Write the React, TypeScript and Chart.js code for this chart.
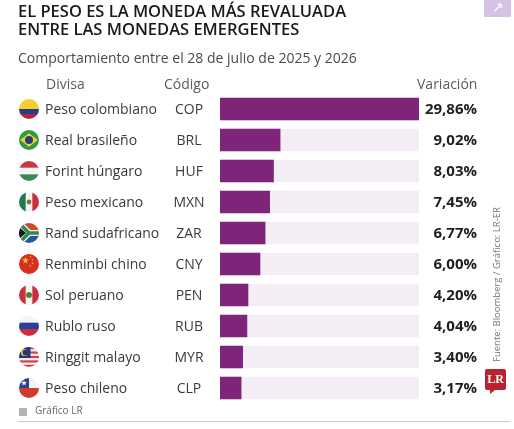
import { useEffect, useRef } from "react";
import { Chart, registerables } from "chart.js";

Chart.register(...registerables);

const currencies = ["Peso colombiano", "Real brasileño", "Forint húngaro", "Peso mexicano", "Rand sudafricano", "Renminbi chino", "Sol peruano", "Rublo ruso", "Ringgit malayo", "Peso chileno"];
const codes = ["COP", "BRL", "HUF", "MXN", "ZAR", "CNY", "PEN", "RUB", "MYR", "CLP"];
const variation = [29.86, 9.02, 8.03, 7.45, 6.77, 6.0, 4.2, 4.04, 3.4, 3.17];
const track = [29.86, 29.86, 29.86, 29.86, 29.86, 29.86, 29.86, 29.86, 29.86, 29.86];

const FONT = '"Open Sans", "Noto Sans", sans-serif';

type Ctx = CanvasRenderingContext2D;

function hStripes(c: Ctx, x: number, y: number, r: number, colors: string[], weights?: number[]) {
  const w = weights || colors.map(() => 1);
  const total = w.reduce((a, b) => a + b, 0);
  let top = y - r;
  colors.forEach((col, i) => {
    const h = (w[i] / total) * 2 * r;
    c.fillStyle = col;
    c.fillRect(x - r, top, 2 * r, h + 0.5);
    top += h;
  });
}

function vStripes(c: Ctx, x: number, y: number, r: number, colors: string[]) {
  const w = (2 * r) / colors.length;
  colors.forEach((col, i) => {
    c.fillStyle = col;
    c.fillRect(x - r + i * w, y - r, w + 0.5, 2 * r);
  });
}

function star(c: Ctx, x: number, y: number, r: number, color: string) {
  c.fillStyle = color;
  c.beginPath();
  for (let i = 0; i < 10; i++) {
    const a = -Math.PI / 2 + (i * Math.PI) / 5;
    const d = i % 2 ? r * 0.42 : r;
    c.lineTo(x + d * Math.cos(a), y + d * Math.sin(a));
  }
  c.closePath();
  c.fill();
}

function dot(c: Ctx, x: number, y: number, r: number, color: string) {
  c.fillStyle = color;
  c.beginPath();
  c.arc(x, y, r, 0, Math.PI * 2);
  c.fill();
}

const flags: Record<string, (c: Ctx, x: number, y: number, r: number) => void> = {
  COP: (c, x, y, r) => hStripes(c, x, y, r, ["#f5cf2e", "#2b3a82", "#b3243c"], [2, 1, 1]),
  BRL: (c, x, y, r) => {
    c.fillStyle = "#2f9a47";
    c.fillRect(x - r, y - r, 2 * r, 2 * r);
    c.fillStyle = "#f3d32f";
    c.beginPath();
    c.moveTo(x - r * 0.88, y);
    c.lineTo(x, y - r * 0.68);
    c.lineTo(x + r * 0.88, y);
    c.lineTo(x, y + r * 0.68);
    c.closePath();
    c.fill();
    dot(c, x, y, r * 0.4, "#2a3a7c");
  },
  HUF: (c, x, y, r) => hStripes(c, x, y, r, ["#c8383f", "#f6f4f2", "#3a8a54"]),
  MXN: (c, x, y, r) => {
    vStripes(c, x, y, r, ["#1f7a50", "#f6f4f2", "#c8303c"]);
    dot(c, x, y, r * 0.24, "#8d6b3f");
  },
  ZAR: (c, x, y, r) => {
    hStripes(c, x, y, r, ["#d3492f", "#23569f"]);
    c.strokeStyle = "#f6f4f2";
    c.lineWidth = r * 0.62;
    c.beginPath();
    c.moveTo(x - r, y - r);
    c.lineTo(x, y);
    c.lineTo(x + r, y);
    c.moveTo(x, y);
    c.lineTo(x - r, y + r);
    c.stroke();
    c.strokeStyle = "#2f8a50";
    c.lineWidth = r * 0.36;
    c.stroke();
    c.fillStyle = "#16181a";
    c.beginPath();
    c.moveTo(x - r, y - r * 0.6);
    c.lineTo(x - r * 0.3, y);
    c.lineTo(x - r, y + r * 0.6);
    c.closePath();
    c.fill();
  },
  CNY: (c, x, y, r) => {
    c.fillStyle = "#d72f22";
    c.fillRect(x - r, y - r, 2 * r, 2 * r);
    star(c, x - r * 0.35, y - r * 0.35, r * 0.36, "#f4c92e");
    star(c, x + r * 0.15, y - r * 0.72, r * 0.12, "#f4c92e");
    star(c, x + r * 0.35, y - r * 0.42, r * 0.12, "#f4c92e");
    star(c, x + r * 0.35, y - r * 0.08, r * 0.12, "#f4c92e");
    star(c, x + r * 0.12, y + r * 0.18, r * 0.12, "#f4c92e");
  },
  PEN: (c, x, y, r) => {
    vStripes(c, x, y, r, ["#c8303c", "#f6f4f2", "#c8303c"]);
    dot(c, x, y, r * 0.3, "#5f7a3c");
  },
  RUB: (c, x, y, r) => hStripes(c, x, y, r, ["#f4f4f6", "#2b3f9a", "#cf2b3a"]),
  MYR: (c, x, y, r) => {
    hStripes(c, x, y, r, ["#d0434f", "#f4eeee", "#d0434f", "#f4eeee", "#d0434f", "#f4eeee", "#d0434f", "#f4eeee", "#d0434f"]);
    c.fillStyle = "#27377f";
    c.fillRect(x - r, y - r, r * 1.15, r * 1.1);
    dot(c, x - r * 0.45, y - r * 0.45, r * 0.36, "#f0cf3a");
    dot(c, x - r * 0.34, y - r * 0.45, r * 0.3, "#27377f");
  },
  CLP: (c, x, y, r) => {
    hStripes(c, x, y, r, ["#f6f4f2", "#d13a30"]);
    c.fillStyle = "#24428f";
    c.fillRect(x - r, y - r, r, r);
    star(c, x - r * 0.5, y - r * 0.5, r * 0.3, "#ffffff");
  },
};

// names, codes, flags and percentages follow the bars through the y scale
const rowLabels = {
  id: "rowLabels",
  afterDatasetsDraw(chart: Chart) {
    const c = chart.ctx;
    const yScale = chart.scales.y;
    codes.forEach((code, i) => {
      const y = yScale.getPixelForValue(i);
      c.save();
      c.beginPath();
      c.arc(29, y, 10, 0, Math.PI * 2);
      c.clip();
      flags[code](c, 29, y, 10);
      c.restore();

      c.textBaseline = "middle";
      c.fillStyle = "#3a3a3e";
      c.font = `400 14px ${FONT}`;
      c.textAlign = "left";
      c.fillText(currencies[i], 45, y + 1);
      c.textAlign = "center";
      c.fillText(code, 189, y + 1);
      c.fillStyle = "#1f1f22";
      c.font = `700 15px ${FONT}`;
      c.textAlign = "right";
      c.fillText(variation[i].toFixed(2).replace(".", ",") + "%", 477, y + 1);
    });
  },
};

function abs(left: number, top: number, extra: React.CSSProperties): React.CSSProperties {
  return { position: "absolute", left, top, fontFamily: FONT, whiteSpace: "nowrap", ...extra };
}

function CurrencyChart() {
  const canvasRef = useRef<HTMLCanvasElement>(null);

  useEffect(() => {
    if (!canvasRef.current) return;
    const chart = new Chart(canvasRef.current, {
      type: "bar",
      data: {
        labels: currencies,
        datasets: [
          { label: "Variación", data: variation, backgroundColor: "#7e2579", order: 1, grouped: false, barThickness: 22 },
          { label: "Escala", data: track, backgroundColor: "#f5edf6", order: 2, grouped: false, barThickness: 22 },
        ],
      },
      options: {
        indexAxis: "y",
        responsive: false,
        animation: false,
        layout: { padding: { left: 220, right: 95, top: 93.5, bottom: 25.5 } },
        scales: {
          x: { display: false, min: 0, max: 29.86 },
          y: { display: false },
        },
        plugins: { legend: { display: false }, tooltip: { enabled: false } },
      },
      plugins: [rowLabels],
    });
    return () => chart.destroy();
  }, []);

  return <canvas ref={canvasRef} width={514} height={429} style={{ position: "absolute", left: 0, top: 0 }}></canvas>;
}

export default function App() {
  useEffect(() => {
    document.body.style.margin = "0";
    document.body.style.background = "#fff";
  }, []);

  const head = { color: "#5a5a5e", fontSize: 14 };
  return (
    <div style={{ position: "relative", width: 514, height: 429, overflow: "hidden" }}>
      <CurrencyChart />
      <div style={abs(18, 2, { fontSize: 16.5, lineHeight: "18px", fontWeight: 600, color: "#1a1a1c" })}>
        EL PESO ES LA MONEDA MÁS REVALUADA
        <br />
        ENTRE LAS MONEDAS EMERGENTES
      </div>
      <div style={abs(18, 48, { fontSize: 14, color: "#4a4a4e", lineHeight: "20px" })}>Comportamiento entre el 28 de julio de 2025 y 2026</div>
      <div style={abs(46, 74, { ...head, lineHeight: "20px" })}>Divisa</div>
      <div style={abs(164, 74, { ...head, lineHeight: "20px" })}>Código</div>
      <div style={abs(417, 74, { ...head, lineHeight: "20px" })}>Variación</div>

      <div style={{ position: "absolute", left: 484, top: 0, width: 27, height: 17, background: "#d6c2e4", color: "#fff", fontSize: 14, lineHeight: "13px", textAlign: "center", fontFamily: FONT }}>↗</div>

      <div style={abs(497, 362, { fontSize: 9.5, color: "#77777b", lineHeight: "12px", transform: "rotate(-90deg)", transformOrigin: "0 0", marginLeft: -6 })}>Fuente: Bloomberg / Gráfico: LR-ER</div>

      <div style={{ position: "absolute", left: 485, top: 369, width: 21, height: 21, background: "#b8232f", borderRadius: 2 }}></div>
      <div style={{ position: "absolute", left: 490, top: 390, borderLeft: "5px solid #b8232f", borderBottom: "4px solid transparent" }}></div>
      <div style={{ position: "absolute", left: 485, top: 372, width: 21, textAlign: "center", color: "#fff", fontFamily: '"Liberation Serif", serif', fontWeight: 700, fontSize: 12, lineHeight: "14px" }}>LR</div>

      <div style={{ position: "absolute", left: 19, top: 408, width: 8, height: 8, background: "#b5b5b8" }}></div>
      <div style={abs(35, 403, { fontSize: 10, color: "#66666a", lineHeight: "15px" })}>Gráfico LR</div>
      <div style={{ position: "absolute", left: 18, top: 421, width: 492, height: 1, background: "#c9c9cc" }}></div>
    </div>
  );
}
